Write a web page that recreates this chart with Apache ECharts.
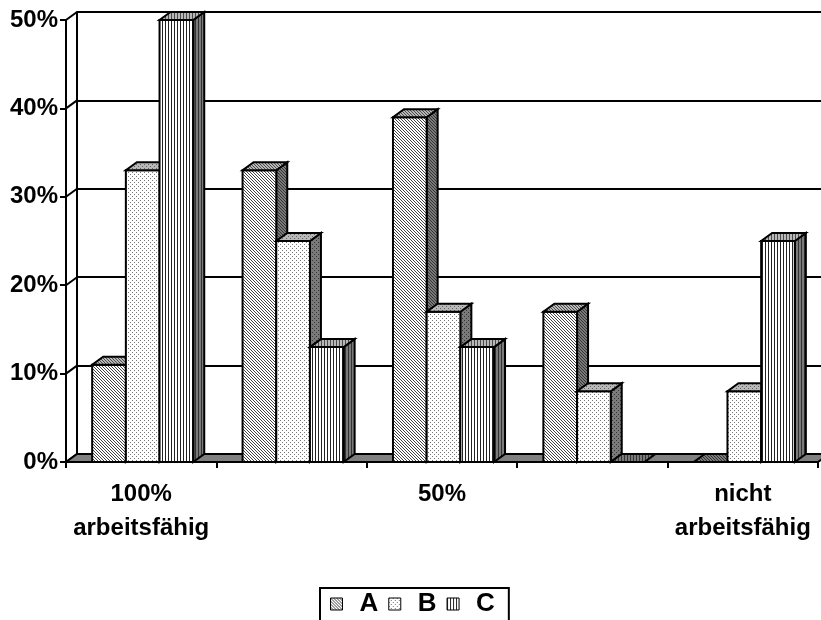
<!DOCTYPE html>
<html>
<head>
<meta charset="utf-8">
<script src="https://cdn.jsdelivr.net/npm/echarts@6/dist/echarts.min.js"></script>
<style>
  html, body { margin: 0; padding: 0; background: #fff; }
  #chart { width: 821px; height: 620px; }
</style>
</head>
<body>
<div id="chart"></div>
<script>
// Data
const categories = ['100%\narbeitsfähig', '', '50%', '', 'nicht\narbeitsfähig'];
const seriesNames = ['A', 'B', 'C'];
const valuesA = [11, 33, 39, 17, 0];
const valuesB = [33, 25, 17, 8, 8];
const valuesC = [50, 13, 13, 0, 25];
const yTicks = [0, 10, 20, 30, 40, 50];

// 3D look: depth offset of the walls, floor and bars
const DX = 11, DY = 8;
const BAR_FRAC = 0.224;
const BAR_SHIFT = 0.01;
const FONT = '"Liberation Sans", Arial, sans-serif';

// Small repeating fill textures
function texture(kind, bg, ink) {
  const size = kind === 'diag' ? 3 : (kind === 'dots' ? 4 : 3);
  const h = kind === 'vline' ? 1 : size;
  const c = document.createElement('canvas');
  c.width = size; c.height = h;
  const g = c.getContext('2d');
  g.fillStyle = bg; g.fillRect(0, 0, size, h);
  g.fillStyle = ink;
  if (kind === 'diag') {
    for (let i = 0; i < size; i++) g.fillRect(i, i, 1, 1);
  } else if (kind === 'dots') {
    g.fillRect(0, 0, 1, 1); g.fillRect(2, 2, 1, 1);
  } else {
    g.fillRect(0, 0, 1, 1);
  }
  return { image: c, repeat: 'repeat' };
}

const kinds = ['diag', 'dots', 'vline'];
const inks = ['#444444', '#777777', '#222222'];
const fronts = kinds.map((k, i) => texture(k, '#ffffff', inks[i]));
const tops = kinds.map((k, i) => texture(k, '#b8b8b8', i === 1 ? '#606060' : '#4a4a4a'));
const sides = kinds.map((k, i) => texture(k, '#7a7a7a', '#333333'));

const allValues = [valuesA, valuesB, valuesC];

function barRenderer(k) {
  return function (params, api) {
    const ci = api.value(0), v = api.value(1);
    const base = api.coord([ci, 0]);
    const top = api.coord([ci, v]);
    const w = api.size([1, 0])[0];
    const bw = w * BAR_FRAC;
    const x0 = base[0] + w * BAR_SHIFT - 1.5 * bw + k * bw, x1 = x0 + bw;
    const yb = base[1], yt = top[1];
    const line = { stroke: '#000', lineWidth: 2, lineJoin: 'miter' };
    const topFace = {
      type: 'polygon',
      shape: { points: [[x0, yt], [x1, yt], [x1 + DX, yt - DY], [x0 + DX, yt - DY]] },
      style: Object.assign({ fill: v === 0 ? sides[k] : tops[k] }, line)
    };
    if (v === 0) return { type: 'group', children: [topFace] };
    return {
      type: 'group',
      children: [
        {
          type: 'polygon',
          shape: { points: [[x1, yb], [x1 + DX, yb - DY], [x1 + DX, yt - DY], [x1, yt]] },
          style: Object.assign({ fill: sides[k] }, line)
        },
        {
          type: 'polygon',
          shape: { points: [[x0, yb], [x1, yb], [x1, yt], [x0, yt]] },
          style: Object.assign({ fill: fronts[k] }, line)
        },
        topFace
      ]
    };
  };
}

const chart = echarts.init(document.getElementById('chart'), null, { renderer: 'canvas' });

const barSeries = seriesNames.map((name, k) => ({
  name: name,
  type: 'custom',
  xAxisIndex: 0,
  yAxisIndex: 0,
  z: 5,
  clip: false,
  itemStyle: { color: fronts[k], borderColor: '#000', borderWidth: 1 },
  renderItem: barRenderer(k),
  encode: { x: 0, y: 1 },
  data: allValues[k].map((v, i) => [i, v])
}));

chart.setOption({
  animation: false,
  backgroundColor: '#ffffff',
  grid: [
    { left: 66, right: 3, top: 20, bottom: 158 },
    { left: 66 + DX, right: 3 - DX, top: 20 - DY, bottom: 158 + DY }
  ],
  xAxis: [
    {
      type: 'category', gridIndex: 0, data: categories,
      axisLine: { show: true, lineStyle: { color: '#000', width: 2 } },
      axisTick: { show: true, length: 6, lineStyle: { color: '#000', width: 2 } },
      axisLabel: {
        color: '#000', fontFamily: FONT, fontWeight: 'bold', fontSize: 24,
        lineHeight: 34, margin: 15, interval: 0
      },
      splitLine: { show: false }
    },
    { type: 'category', gridIndex: 1, data: categories, show: false }
  ],
  yAxis: [
    {
      type: 'value', gridIndex: 0, min: 0, max: 50, interval: 10,
      axisLine: { show: true, lineStyle: { color: '#000', width: 2 } },
      axisTick: { show: true, length: 6, lineStyle: { color: '#000', width: 2 } },
      axisLabel: {
        color: '#000', fontFamily: FONT, fontWeight: 'bold', fontSize: 24,
        margin: 8, formatter: '{value}%'
      },
      splitLine: { show: false }
    },
    {
      type: 'value', gridIndex: 1, min: 0, max: 50, interval: 10,
      axisLine: { show: true, lineStyle: { color: '#000', width: 2 } },
      axisTick: { show: false },
      axisLabel: { show: false },
      splitLine: { show: true, lineStyle: { color: '#000', width: 2 } }
    }
  ],
  legend: {
    data: seriesNames.map((n, k) => ({
      name: n, icon: 'rect',
      itemStyle: { color: fronts[k], borderColor: '#000', borderWidth: 1 }
    })),
    left: 320, top: 588,
    orient: 'horizontal',
    itemWidth: 12, itemHeight: 12, itemGap: 10,
    padding: [3, 14, 30, 10],
    borderColor: '#000', borderWidth: 2,
    selectedMode: false,
    textStyle: {
      color: '#000', fontFamily: FONT, fontWeight: 'bold', fontSize: 26,
      padding: [0, 0, 0, 12]
    }
  },
  series: [
    {
      // left side wall lines
      type: 'custom', xAxisIndex: 0, yAxisIndex: 0, z: 1, clip: false,
      silent: true,
      renderItem: function (params, api) {
        const cs = params.coordSys;
        const y = api.coord([0, api.value(1)])[1];
        return {
          type: 'line',
          shape: { x1: cs.x, y1: y, x2: cs.x + DX, y2: y - DY },
          style: { stroke: '#000', lineWidth: 2 }
        };
      },
      encode: { x: 0, y: 1 },
      data: yTicks.map(v => [0, v])
    },
    {
      // floor
      type: 'custom', xAxisIndex: 0, yAxisIndex: 0, z: 2, clip: false,
      silent: true,
      renderItem: function (params, api) {
        const cs = params.coordSys;
        const yb = api.coord([0, 0])[1];
        const xl = cs.x, xr = cs.x + cs.width;
        return {
          type: 'polygon',
          shape: { points: [[xl, yb], [xr, yb], [xr + DX, yb - DY], [xl + DX, yb - DY]] },
          style: { fill: '#808080', stroke: '#000', lineWidth: 2 }
        };
      },
      encode: { x: 0, y: 1 },
      data: [[0, 0]]
    }
  ].concat(barSeries)
});
</script>
</body>
</html>
